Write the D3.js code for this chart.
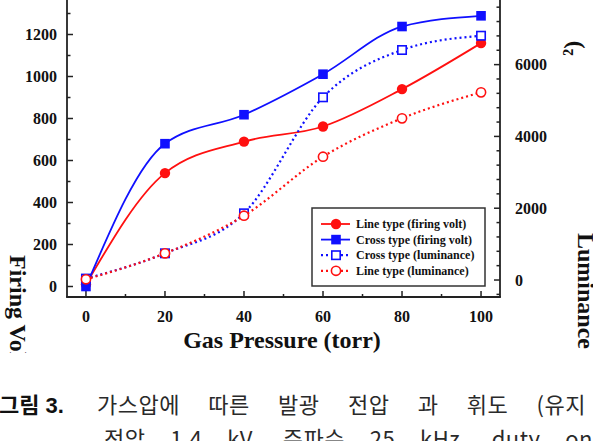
<!DOCTYPE html>
<html>
<head>
<meta charset="utf-8">
<script src="https://cdn.jsdelivr.net/npm/d3@7/dist/d3.min.js"></script>
<style>
html,body{margin:0;padding:0;background:#fff;}
svg{display:block;}
</style>
</head>
<body>
<svg id="chart" width="593" height="441"></svg>
<script>
// ---- data ----
const pressures = [0, 20, 40, 60, 80, 100];
const lineFiring = [10, 540, 690, 762, 940, 1159];
const crossFiring = [0, 680, 818, 1011, 1238, 1289];
const crossLum = [40, 744, 1858, 5089, 6407, 6805];
const lineLum = [20, 744, 1791, 3435, 4504, 5228];
const seriesNames = ["Line type (firing volt)", "Cross type (firing volt)", "Cross type (luminance)", "Line type (luminance)"];
const xTicks = [0, 20, 40, 60, 80, 100];
const yLeftTicks = [0, 200, 400, 600, 800, 1000, 1200];
const yRightTicks = [0, 2000, 4000, 6000];
const xTitle = "Gas Pressure (torr)";
const yLeftTitle = "Firing Voltage (V)";
const yRightTitle = "Luminance (cd/m²)";
const captionHead = "그림 3.";
const captionLine1 = "가스압에 따른 발광 전압 과 휘도 (유지";
const captionLine2 = "전압 1.4 kV, 주파수 25 kHz, duty on";

const svg = d3.select("#chart");
const serif = "'Liberation Serif','Times New Roman',serif";
const RED = "#ff1010", BLUE = "#1010ff", AX = "#222";

const x = d3.scaleLinear().domain([-4.8, 104.8]).range([67, 500]);
const yL = d3.scaleLinear().domain([-50, 1400]).range([297, 297 - 1450 * 0.21]);
const yR = d3.scaleLinear().domain([-473, 8000]).range([297, 297 - 8473 * 0.0359]);

svg.append("defs").append("clipPath").attr("id", "fig")
  .append("rect").attr("x", 0).attr("y", 0).attr("width", 593).attr("height", 353);

const g = svg.append("g").attr("clip-path", "url(#fig)");

// axes lines
const axW = 1.8;
g.append("line").attr("x1", x.range()[0]).attr("x2", x.range()[0]).attr("y1", 297).attr("y2", -10).attr("stroke", AX).attr("stroke-width", axW);
g.append("line").attr("x1", x.range()[1]).attr("x2", x.range()[1]).attr("y1", 297).attr("y2", -10).attr("stroke", AX).attr("stroke-width", axW);
g.append("line").attr("x1", x.range()[0] - 0.9).attr("x2", x.range()[1] + 0.9).attr("y1", 297).attr("y2", 297).attr("stroke", AX).attr("stroke-width", axW);

// bottom ticks
const xMinor = d3.range(10, 101, 20);
g.selectAll(".xt").data(xTicks).join("line")
  .attr("x1", d => x(d)).attr("x2", d => x(d)).attr("y1", 297).attr("y2", 291)
  .attr("stroke", AX).attr("stroke-width", 1.5);
g.selectAll(".xm").data(xMinor).join("line")
  .attr("x1", d => x(d)).attr("x2", d => x(d)).attr("y1", 297).attr("y2", 294)
  .attr("stroke", AX).attr("stroke-width", 1.5);
g.selectAll(".xl").data(xTicks).join("text")
  .attr("x", d => x(d)).attr("y", 322).attr("text-anchor", "middle")
  .attr("font-family", serif).attr("font-weight", "bold").attr("font-size", 16).attr("fill", "#111")
  .text(d => d);

// left ticks
const yLMinor = d3.range(100, 1400, 200);
g.selectAll(".ylt").data(yLeftTicks.concat([1400])).join("line")
  .attr("x1", x.range()[0]).attr("x2", x.range()[0] + 6).attr("y1", d => yL(d)).attr("y2", d => yL(d))
  .attr("stroke", AX).attr("stroke-width", 1.5);
g.selectAll(".ylm").data(yLMinor).join("line")
  .attr("x1", x.range()[0]).attr("x2", x.range()[0] + 3.5).attr("y1", d => yL(d)).attr("y2", d => yL(d))
  .attr("stroke", AX).attr("stroke-width", 1.5);
g.selectAll(".yll").data(yLeftTicks).join("text")
  .attr("x", 57).attr("y", d => yL(d)).attr("dy", "0.35em").attr("text-anchor", "end")
  .attr("font-family", serif).attr("font-weight", "bold").attr("font-size", 16).attr("fill", "#111")
  .text(d => d);

// right ticks
const yRMinor = d3.range(-400, 8000, 400).filter(d => d % 2000 !== 0);
g.selectAll(".yrt").data(yRightTicks.concat([8000])).join("line")
  .attr("x1", x.range()[1]).attr("x2", x.range()[1] - 6).attr("y1", d => yR(d)).attr("y2", d => yR(d))
  .attr("stroke", AX).attr("stroke-width", 1.5);
g.selectAll(".yrm").data(yRMinor).join("line")
  .attr("x1", x.range()[1]).attr("x2", x.range()[1] - 3.5).attr("y1", d => yR(d)).attr("y2", d => yR(d))
  .attr("stroke", AX).attr("stroke-width", 1.5);
g.selectAll(".yrl").data(yRightTicks).join("text")
  .attr("x", 515).attr("y", d => yR(d)).attr("dy", "0.35em").attr("text-anchor", "start")
  .attr("font-family", serif).attr("font-weight", "bold").attr("font-size", 16).attr("fill", "#111")
  .text(d => d);

// titles
g.append("text").attr("x", 282).attr("y", 348).attr("text-anchor", "middle")
  .attr("font-family", serif).attr("font-weight", "bold").attr("font-size", 24).attr("fill", "#111")
  .text(xTitle);
g.append("text").attr("transform", "translate(10,255) rotate(90)")
  .attr("font-family", serif).attr("font-weight", "bold").attr("font-size", 24).attr("fill", "#111")
  .text(yLeftTitle);
g.append("text").attr("transform", "translate(578,233) rotate(90)")
  .attr("font-family", serif).attr("font-weight", "bold").attr("font-size", 24).attr("fill", "#111")
  .text(yRightTitle);
g.append("text").attr("transform", "translate(580,56) rotate(-90)")
  .attr("font-family", serif).attr("font-weight", "bold").attr("font-size", 24).attr("fill", "#111")
  .text(yRightTitle.slice(-2));

// series
const series = [
  {name: seriesNames[0], vals: lineFiring, y: yL, color: RED, dash: null, shape: "circle", filled: true},
  {name: seriesNames[1], vals: crossFiring, y: yL, color: BLUE, dash: null, shape: "square", filled: true},
  {name: seriesNames[2], vals: crossLum, y: yR, color: BLUE, dash: "2,3", shape: "square", filled: false},
  {name: seriesNames[3], vals: lineLum, y: yR, color: RED, dash: "2,3", shape: "circle", filled: false}
];

function marker(sel, s) {
  if (s.shape === "circle") {
    sel.append("circle").attr("r", s.filled ? 5.2 : 4.6)
      .attr("fill", s.filled ? s.color : "#fff").attr("stroke", s.color).attr("stroke-width", s.filled ? 0 : 1.6);
  } else {
    const h = s.filled ? 4.8 : 4.2;
    sel.append("rect").attr("x", -h).attr("y", -h).attr("width", 2 * h).attr("height", 2 * h)
      .attr("fill", s.filled ? s.color : "#fff").attr("stroke", s.color).attr("stroke-width", s.filled ? 0 : 1.6);
  }
}

series.forEach(s => {
  const pts = pressures.map((p, i) => [x(p), s.y(s.vals[i])]);
  const line = d3.line().curve(d3.curveMonotoneX);
  g.append("path").attr("d", line(pts)).attr("fill", "none").attr("stroke", s.color)
    .attr("stroke-width", s.dash ? 2.2 : 1.8).attr("stroke-dasharray", s.dash);
  pts.forEach(p => {
    const m = g.append("g").attr("transform", `translate(${p[0]},${p[1]})`);
    marker(m, s);
  });
});

// legend
const lg = g.append("g");
lg.append("rect").attr("x", 312).attr("y", 208).attr("width", 173).attr("height", 78)
  .attr("fill", "#fff").attr("stroke", "#333").attr("stroke-width", 1.5);
series.forEach((s, i) => {
  const yy = 224 + i * 15.6;
  lg.append("line").attr("x1", 321).attr("x2", 350).attr("y1", yy).attr("y2", yy)
    .attr("stroke", s.color).attr("stroke-width", s.dash ? 2.2 : 1.8).attr("stroke-dasharray", s.dash);
  const m = lg.append("g").attr("transform", `translate(336,${yy})`);
  marker(m, s);
  lg.append("text").attr("x", 356).attr("y", yy).attr("dy", "0.35em")
    .attr("font-family", serif).attr("font-weight", "bold").attr("font-size", 12).attr("fill", "#111")
    .text(s.name);
});

// caption
const kr = "'Noto Sans CJK KR','Noto Sans',sans-serif";
const head = svg.append("text").attr("x", -1).attr("y", 413).attr("font-size", 22).attr("fill", "#111");
head.append("tspan").attr("font-family", kr).attr("font-weight", 700).text(captionHead.split(" ")[0]);
head.append("tspan").attr("font-family", "'Liberation Sans',Arial,sans-serif").attr("font-weight", "bold").attr("dx", 6).text(captionHead.split(" ")[1]);

function justified(txt, x0, x1, y) {
  const t = svg.append("text").attr("x", x0).attr("y", y).attr("font-size", 22).attr("fill", "#2a2a2a")
    .attr("letter-spacing", 0.5)
    .attr("font-family", kr).attr("font-weight", 400).text(txt);
  const w = t.node().getComputedTextLength();
  const spaces = (txt.match(/ /g) || []).length;
  if (spaces > 0) t.attr("word-spacing", Math.max(0, (x1 - x0 - w) / spaces));
  return t;
}
justified(captionLine1, 97, 586, 413);
justified(captionLine2, 104, 593, 447);
</script>
</body>
</html>
